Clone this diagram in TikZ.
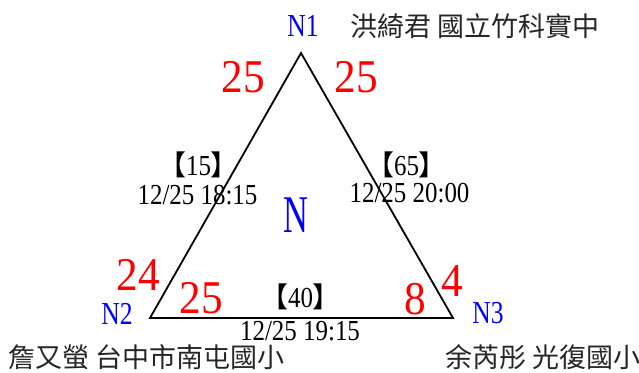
\documentclass[tikz,border=0pt]{standalone}
\usepackage{fontspec}
\setmainfont{Liberation Serif}
\newfontfamily\cjk{Noto Sans CJK TC}
\newfontfamily\redfont[FakeStretch=0.92]{Liberation Serif}
\newfontfamily\lblfont[FakeStretch=0.8]{Liberation Serif}
\newfontfamily\bigfont[FakeStretch=0.65]{Liberation Serif}
\newfontfamily\datefont[FakeStretch=0.86]{Liberation Serif}
\newcommand{\lbr}{{\cjk\fontsize{28}{28}\selectfont 【}}
\newcommand{\rbr}{{\cjk\fontsize{28}{28}\selectfont 】}}
\usetikzlibrary{positioning}

\begin{document}
\begin{tikzpicture}[x=1pt,y=-1pt,
    tri/.style={draw=black,line width=1.8pt,line join=miter},
    vtx/.style={inner sep=0pt,text=blue,font=\lblfont\fontsize{32}{32}\selectfont},
    cnt/.style={inner sep=0pt,text=red,font=\redfont\fontsize{47}{47}\selectfont},
    stamp/.style={inner sep=0pt,text=black,font=\datefont\fontsize{29}{29}\selectfont},
    who/.style={inner sep=0pt,anchor=west,text=black!85,font=\cjk\fontsize{27}{27}\selectfont}]
\useasboundingbox (0,0) rectangle (639,372);
\coordinate (v1) at (301,53);
\coordinate (v2) at (150,318);
\coordinate (v3) at (453,318);
\draw[tri] (v1) -- (v2) -- (v3) -- cycle;
\node[vtx] (n1) at (303,25.5) {N1};
\node[vtx] (n2) at (117,314) {N2};
\node[vtx] (n3) at (488,313.5) {N3};
\node[inner sep=0pt,text=blue,font=\bigfont\fontsize{53}{53}\selectfont] (nn) at (296,215.5) {N};
\node[who] (p1) at (350,26) {洪綺君 國立竹科實中};
\node[who] (p2) at (8,357.5) {詹又螢 台中市南屯國小};
\node[who] (p3) at (445,357.5) {余芮彤 光復國小};
\node[cnt] (c1a) at (243,77.5) {25};
\node[cnt] (c1b) at (356,77.5) {25};
\node[cnt] (c2a) at (138,275) {24};
\node[cnt] (c2b) at (201.5,298) {25};
\node[cnt] (c3a) at (415.5,299.5) {8};
\node[cnt] (c3b) at (452,281) {4};
\node[stamp] (s12) at (198.5,164.5) {\lbr15\rbr};
\node[stamp] (t12) at (197.5,195) {12/25 18:15};
\node[stamp] (s13) at (406.5,164.5) {\lbr65\rbr};
\node[stamp] (t13) at (409.5,193) {12/25 20:00};
\node[stamp] (s23) at (300.5,296.5) {\lbr40\rbr};
\node[stamp] (t23) at (300,331) {12/25 19:15};
\end{tikzpicture}
\end{document}
